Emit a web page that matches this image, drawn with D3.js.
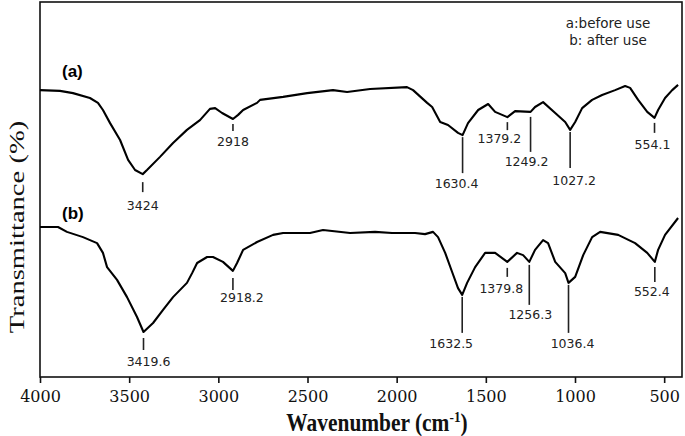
<!DOCTYPE html>
<html>
<head>
<meta charset="utf-8">
<script src="https://cdn.jsdelivr.net/npm/d3@7"></script>
<style>
  html, body { margin: 0; padding: 0; background: #fff; }
  svg { display: block; }
</style>
</head>
<body>
<svg id="chart" width="685" height="436"></svg>
<script>
// ---------- data ----------
const xTicks = [4000, 3500, 3000, 2500, 2000, 1500, 1000, 500];

// curve (a): before use
const wavenumberA = [4000, 3888, 3815, 3720, 3675, 3647, 3607, 3551, 3506, 3467, 3424, 3400, 3327, 3254, 3176, 3103, 3047, 3018, 2979, 2918, 2889, 2861, 2783, 2766, 2637, 2502, 2357, 2278, 2149, 1942, 1908, 1829, 1801, 1756, 1712, 1656, 1630.4, 1600, 1543, 1487, 1448, 1379.2, 1336, 1249.2, 1224, 1179, 1111, 1055, 1027.2, 999, 960, 904, 848, 775, 719, 691, 646, 595, 554.1, 534, 495, 455, 422];
const transA = [76.5, 76.3, 75.7, 74.4, 73.1, 71.2, 67.7, 63.2, 57.9, 55.2, 54.1, 55.2, 58.7, 62.4, 65.9, 68.5, 71.5, 71.7, 70.4, 68.8, 69.9, 71.2, 73.1, 73.9, 74.7, 75.7, 76.5, 76.0, 76.8, 77.3, 76.5, 73.1, 72.0, 68.0, 67.2, 65.1, 64.5, 67.7, 71.2, 72.8, 70.7, 69.3, 70.9, 70.7, 72.0, 73.3, 70.4, 68.0, 65.9, 68.0, 71.7, 73.9, 75.2, 76.5, 77.6, 77.1, 73.9, 70.7, 69.1, 71.2, 74.4, 76.5, 77.9];

// curve (b): after use
const wavenumberB = [4000, 3899, 3849, 3759, 3680, 3647, 3624, 3568, 3512, 3456, 3419.6, 3366, 3310, 3254, 3176, 3147, 3119, 3063, 3030, 2974, 2918.2, 2895, 2861, 2783, 2693, 2637, 2486, 2413, 2261, 2121, 2026, 1897, 1841, 1796, 1768, 1728, 1689, 1656, 1632.5, 1605, 1560, 1504, 1448, 1379.8, 1325, 1291, 1256.3, 1224, 1179, 1151, 1111, 1055, 1036.4, 999, 954, 904, 859, 758, 663, 595, 552.4, 534, 495, 422];
const transB = [40.0, 40.0, 38.7, 37.3, 35.7, 33.1, 29.3, 25.9, 21.3, 16.0, 12.0, 14.4, 17.9, 21.3, 25.1, 27.7, 30.4, 32.0, 32.0, 30.7, 28.3, 30.4, 33.9, 36.0, 37.9, 38.4, 38.4, 39.2, 38.4, 38.7, 38.4, 38.4, 38.1, 38.7, 37.3, 33.1, 28.0, 23.7, 21.9, 25.1, 29.3, 33.1, 33.1, 30.7, 33.1, 32.5, 30.7, 33.9, 36.5, 35.7, 30.7, 27.7, 25.1, 26.7, 32.5, 37.3, 38.7, 37.9, 35.7, 33.1, 30.7, 33.9, 37.9, 42.4];

// peak annotations
const peaksA = [3424, 2918, 1630.4, 1379.2, 1249.2, 1027.2, 554.1];
const peakLabelsA = ["3424", "2918", "1630.4", "1379.2", "1249.2", "1027.2", "554.1"];
const peaksB = [3419.6, 2918.2, 1632.5, 1379.8, 1256.3, 1036.4, 552.4];
const peakLabelsB = ["3419.6", "2918.2", "1632.5", "1379.8", "1256.3", "1036.4", "552.4"];

const legendLines = ["a:before use", "b: after use"];

// ---------- layout (pixels) ----------
// per-peak marker layout: [gap below curve, line length, label dx, label baseline below line end]
const layoutA = [[8, 10, 0, 18], [5, 7, 0, 15], [2, 36, -6, 15], [5, 8, -8, 13], [5, 35, -4, 14], [2, 36, 4, 17], [5, 10, -2, 16]];
const layoutB = [[6, 12, 5, 16], [7, 12, 9, 12], [2, 36, -11, 15], [6, 9, -6, 16], [3, 40, 1, 14], [2, 48, 4, 15], [5, 15, -3, 14]];

const svg = d3.select("#chart");
const L = 40, R = 682, T = 2, B = 377;

const x = d3.scaleLinear().domain([4000, 400]).range([L, R]);
const y = d3.scaleLinear().domain([0, 100]).range([B, T]);

// frame
svg.append("rect")
  .attr("x", L).attr("y", T).attr("width", R - L).attr("height", B - T)
  .attr("fill", "none").attr("stroke", "#111").attr("stroke-width", 1.6);

// x axis
const xAxis = svg.append("g")
  .attr("transform", `translate(0,${B})`)
  .call(d3.axisBottom(x).tickValues(xTicks).tickSize(6).tickFormat(d3.format("d")));
xAxis.select(".domain").remove();
xAxis.selectAll(".tick line").attr("stroke", "#111").attr("stroke-width", 1.6);
xAxis.selectAll(".tick text")
  .attr("y", 25).attr("dy", 0)
  .attr("fill", "#111")
  .style("font-family", "'DejaVu Serif', serif")
  .style("font-size", "16px");

// axis titles
const xt = svg.append("text")
  .attr("transform", "translate(377,431) scale(1.02,1.15)")
  .attr("text-anchor", "middle")
  .style("font-family", "'Liberation Serif', 'Times New Roman', serif")
  .style("font-size", "21px")
  .style("font-weight", "bold")
  .attr("fill", "#111");
xt.append("tspan").text("Wavenumber (cm");
xt.append("tspan").attr("dy", -8).style("font-size", "13px").text("-1");
xt.append("tspan").attr("dy", 8).text(")");

svg.append("text")
  .attr("transform", "translate(24,227) scale(1,1.3) rotate(-90)")
  .attr("text-anchor", "middle")
  .style("font-family", "'Liberation Serif', 'Times New Roman', serif")
  .style("font-size", "22px")
  .attr("fill", "#111")
  .text("Transmittance (%)");

// curves
const line = d3.line().x(d => x(d[0])).y(d => y(d[1]));
const dataA = wavenumberA.map((w, i) => [w, transA[i]]);
const dataB = wavenumberB.map((w, i) => [w, transB[i]]);

[dataA, dataB].forEach(data => {
  svg.append("path")
    .datum(data)
    .attr("fill", "none")
    .attr("stroke", "#000")
    .attr("stroke-width", 2.1)
    .attr("stroke-linejoin", "round")
    .attr("d", line);
});

// value lookup on a curve
function valueAt(ws, ts, w) {
  for (let i = 0; i < ws.length - 1; i++) {
    const a = ws[i], b = ws[i + 1];
    if ((w <= a && w >= b)) {
      const t = (a - w) / (a - b);
      return ts[i] + t * (ts[i + 1] - ts[i]);
    }
  }
  return ts[ts.length - 1];
}

function drawPeaks(peaks, labels, layout, ws, ts) {
  const g = svg.append("g");
  peaks.forEach((p, i) => {
    const [gap, len, dx, dyl] = layout[i];
    const px = x(p);
    const y0 = y(valueAt(ws, ts, p)) + gap;
    g.append("line")
      .attr("x1", px).attr("x2", px)
      .attr("y1", y0).attr("y2", y0 + len)
      .attr("stroke", "#222").attr("stroke-width", 1.6);
    g.append("text")
      .attr("x", px + dx).attr("y", y0 + len + dyl)
      .attr("text-anchor", "middle")
      .style("font-family", "'DejaVu Sans', sans-serif")
      .style("font-size", "12.5px")
      .attr("fill", "#222")
      .text(labels[i]);
  });
}
drawPeaks(peaksA, peakLabelsA, layoutA, wavenumberA, transA);
drawPeaks(peaksB, peakLabelsB, layoutB, wavenumberB, transB);

// series labels
svg.append("text").attr("x", 62).attr("y", 77)
  .style("font-family", "'Liberation Sans', Arial, sans-serif")
  .style("font-size", "17px").style("font-weight", "bold")
  .attr("fill", "#000").text("(a)");
svg.append("text").attr("x", 62).attr("y", 219)
  .style("font-family", "'Liberation Sans', Arial, sans-serif")
  .style("font-size", "17px").style("font-weight", "bold")
  .attr("fill", "#000").text("(b)");

// legend text
svg.selectAll(".legend").data(legendLines).enter().append("text")
  .attr("class", "legend")
  .attr("x", 608).attr("y", (d, i) => 28 + i * 17)
  .attr("text-anchor", "middle")
  .style("font-family", "'DejaVu Sans', sans-serif")
  .style("font-size", "13.5px")
  .attr("fill", "#222")
  .text(d => d);
</script>
</body>
</html>
